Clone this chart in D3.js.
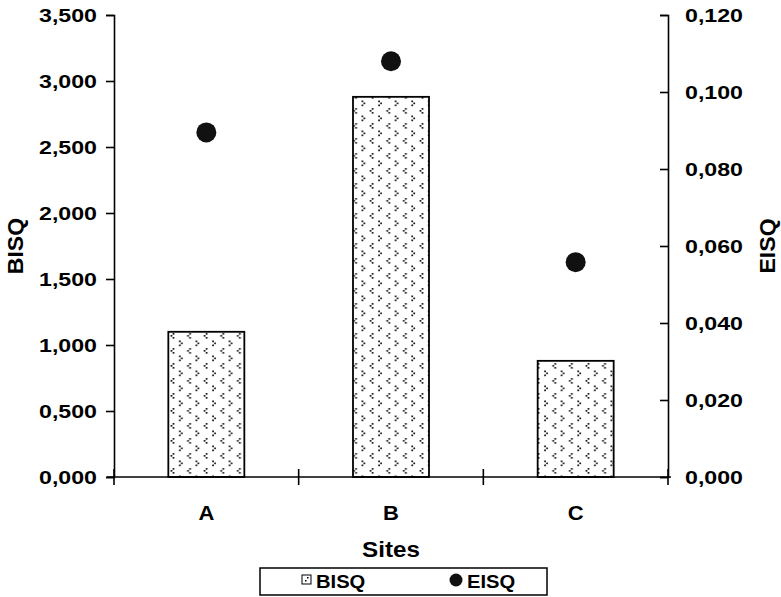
<!DOCTYPE html>
<html>
<head>
<meta charset="utf-8">
<script src="https://cdn.jsdelivr.net/npm/d3@7"></script>
<style>
  body { margin: 0; background: #fff; }
  text { font-family: "Liberation Sans", Arial, Helvetica, sans-serif; font-weight: bold; fill: #000; }
</style>
</head>
<body>
<svg width="781" height="597"></svg>
<script>
var sites = ['A', 'B', 'C'];
var bisq = [1.10, 2.88, 0.88];
var eisq = [0.0895, 0.108, 0.0558];
var bisqTicks = [0, 0.5, 1, 1.5, 2, 2.5, 3, 3.5];
var eisqTicks = [0, 0.02, 0.04, 0.06, 0.08, 0.1, 0.12];

(function (d3) {
  var svg = d3.select('svg')
    , left = 114
    , right = 668
    , top = 15
    , bottom = 477
    ;

  var comma = function (f) {
    return function (v) { return d3.format(f)(v).replace('.', ','); };
  };

  // the reference type is a little wider than Liberation Sans
  var stretch = function (sel, s) {
    sel.each(function () {
      var w = this.getComputedTextLength();
      d3.select(this).attr('textLength', w * s).attr('lengthAdjust', 'spacingAndGlyphs');
    });
  };

  var x = d3.scaleBand().domain(sites).range([left, right]).padding(0);
  var yL = d3.scaleLinear().domain([0, 3.5]).range([bottom, top]);
  var yR = d3.scaleLinear().domain([0, 0.12]).range([bottom, top]);

  // little chevron dot pattern used for the bars: '<' rows and '>' rows
  var defs = svg.append('defs');
  var pat = defs.append('pattern')
    .attr('id', 'dots')
    .attr('patternUnits', 'userSpaceOnUse')
    .attr('width', 16.6)
    .attr('height', 15)
    .attr('x', 169)
    .attr('y', 3);
  pat.append('rect').attr('width', 16.6).attr('height', 15).attr('fill', 'white');
  var chev = [[3.6, 0], [1.6, 2], [3.6, 4], [10, 7.5], [12, 9.5], [10, 11.5]];
  chev.forEach(function (p) {
    pat.append('rect')
      .attr('x', p[0]).attr('y', p[1])
      .attr('width', 1.7).attr('height', 1.7)
      .attr('fill', '#111');
  });

  var barW = 76;

  svg.selectAll('rect.bar')
    .data(sites)
    .enter().append('rect')
    .attr('class', 'bar')
    .attr('x', function (d) { return x(d) + x.bandwidth() / 2 - barW / 2; })
    .attr('y', function (d, i) { return yL(bisq[i]); })
    .attr('width', barW)
    .attr('height', function (d, i) { return bottom - yL(bisq[i]); })
    .attr('fill', 'url(#dots)')
    .attr('stroke', '#000')
    .attr('stroke-width', 1.8);

  svg.selectAll('circle.pt')
    .data(sites)
    .enter().append('circle')
    .attr('class', 'pt')
    .attr('cx', function (d) { return x(d) + x.bandwidth() / 2; })
    .attr('cy', function (d, i) { return yR(eisq[i]); })
    .attr('r', 10)
    .attr('fill', '#111');

  // left axis
  var gL = svg.append('g')
    .attr('transform', 'translate(' + left + ',0)')
    .call(d3.axisLeft(yL).tickValues(bisqTicks).tickFormat(comma('.3f')).tickSize(8).tickPadding(9));

  // right axis, ticks pointing inward
  var gR = svg.append('g')
    .attr('transform', 'translate(' + right + ',0)')
    .call(d3.axisRight(yR).tickValues(eisqTicks).tickFormat(comma('.3f')).tickSize(-8).tickPadding(17));

  // bottom axis: labels only, boundary ticks drawn below
  var gB = svg.append('g')
    .attr('transform', 'translate(0,' + bottom + ')')
    .call(d3.axisBottom(x).tickSize(0).tickPadding(29));
  gB.select('.domain').remove();

  svg.append('line')
    .attr('x1', left - 7).attr('x2', right + 3)
    .attr('y1', bottom).attr('y2', bottom)
    .attr('stroke', '#000').attr('stroke-width', 1.6);

  svg.selectAll('line.xtick')
    .data(sites.map(function (d) { return x(d); }).concat([right]))
    .enter().append('line')
    .attr('class', 'xtick')
    .attr('x1', function (d) { return d; })
    .attr('x2', function (d) { return d; })
    .attr('y1', bottom - 8)
    .attr('y2', bottom + 8)
    .attr('stroke', '#000')
    .attr('stroke-width', 1.6);

  [gL, gR, gB].forEach(function (g) {
    g.selectAll('.domain, .tick line').attr('stroke', '#000').attr('stroke-width', 1.6);
    g.selectAll('text')
      .attr('font-size', 19)
      .attr('font-weight', 'bold')
      .attr('font-family', '"Liberation Sans", Arial, sans-serif')
      .attr('fill', '#000');
  });
  stretch(gL.selectAll('text'), 1.22);
  stretch(gR.selectAll('text'), 1.22);
  gB.selectAll('text').attr('font-size', 20);
  stretch(gB.selectAll('text'), 1.1);

  // axis titles
  var tL = svg.append('text')
    .attr('transform', 'translate(23,' + (top + bottom) / 2 + ') rotate(-90)')
    .attr('text-anchor', 'middle')
    .attr('font-size', 22)
    .text('BISQ');
  var tR = svg.append('text')
    .attr('transform', 'translate(775,' + (top + bottom) / 2 + ') rotate(-90)')
    .attr('text-anchor', 'middle')
    .attr('font-size', 22)
    .text('EISQ');
  var tX = svg.append('text')
    .attr('x', (left + right) / 2)
    .attr('y', 557)
    .attr('text-anchor', 'middle')
    .attr('font-size', 22)
    .text('Sites');
  stretch(tL, 1.05);
  stretch(tR, 1.05);
  stretch(tX, 1.1);

  // legend
  var leg = svg.append('g');
  leg.append('rect')
    .attr('x', 260).attr('y', 568)
    .attr('width', 287).attr('height', 27)
    .attr('fill', 'white')
    .attr('stroke', '#000')
    .attr('stroke-width', 1.5);
  leg.append('rect')
    .attr('x', 302).attr('y', 575)
    .attr('width', 9).attr('height', 9)
    .attr('fill', 'white')
    .attr('stroke', '#000')
    .attr('stroke-width', 1);
  leg.append('rect').attr('x', 307).attr('y', 577).attr('width', 1.5).attr('height', 1.5).attr('fill', '#000');
  leg.append('rect').attr('x', 305).attr('y', 580).attr('width', 1.5).attr('height', 1.5).attr('fill', '#000');
  var l1 = leg.append('text')
    .attr('x', 316).attr('y', 588)
    .attr('font-size', 18)
    .text('BISQ');
  leg.append('circle')
    .attr('cx', 456).attr('cy', 580)
    .attr('r', 6.5)
    .attr('fill', '#111');
  var l2 = leg.append('text')
    .attr('x', 467).attr('y', 588)
    .attr('font-size', 18)
    .text('EISQ');
  stretch(l1, 1.12);
  stretch(l2, 1.12);
})(d3);
</script>
</body>
</html>
